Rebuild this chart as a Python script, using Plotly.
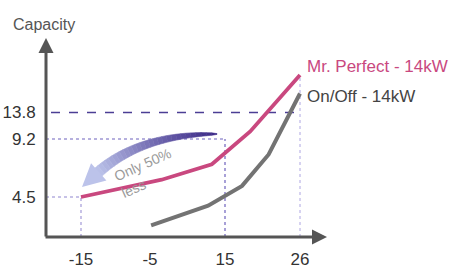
import numpy as np
import plotly.graph_objects as go

# ---------------- data ----------------
temp_ticks = [-15, -5, 15, 26]
temp_labels = ["-15", "-5", "15", "26"]
cap_ticks = [4.5, 9.2, 13.8]
cap_labels = ["4.5", "9.2", "13.8"]

perfect_name = "Mr. Perfect - 14kW"
perfect_temp = [-15, -1.9, 11.5, 18.7, 26]
perfect_cap = [4.5, 5.9, 7.15, 10.5, 20.3]

onoff_name = "On/Off - 14kW"
onoff_temp = [-4.7, 10.5, 17.5, 21.4, 26]
onoff_cap = [2.2, 3.8, 5.4, 7.95, 17.1]

note_text = "Only 50%<br>less"

# ---------------- schematic (non-linear) axis layout ----------------
TEMP_POS = [0, 69, 144, 219]      # drawn position of each temperature tick
CAP_POS = [40, 98, 124.5]         # drawn position of each capacity tick


def piecewise(v, knots, pos):
    v = np.atleast_1d(np.asarray(v, dtype=float))
    out = np.interp(v, knots, pos)
    lo_s = (pos[1] - pos[0]) / (knots[1] - knots[0])
    hi_s = (pos[-1] - pos[-2]) / (knots[-1] - knots[-2])
    out = np.where(v < knots[0], pos[0] + (v - knots[0]) * lo_s, out)
    out = np.where(v > knots[-1], pos[-1] + (v - knots[-1]) * hi_s, out)
    return out


def tx(t):
    return piecewise(t, temp_ticks, TEMP_POS)


def cy(c):
    return piecewise(c, cap_ticks, CAP_POS)


W, H = 452, 270
ML, MR, MT, MB = 46, 122, 30, 33
XR = [-35, -35 + (W - ML - MR)]
YR = [0, H - MT - MB]

FONT = "Liberation Sans, Arial, sans-serif"
PINK = "#c9487f"
GRAY = "#737373"
AXIS = "#555555"

fig = go.Figure()

fig.add_trace(go.Scatter(x=tx(onoff_temp), y=cy(onoff_cap), mode="lines",
                         line=dict(color=GRAY, width=4), name=onoff_name,
                         hoverinfo="skip"))
fig.add_trace(go.Scatter(x=tx(perfect_temp), y=cy(perfect_cap), mode="lines",
                         line=dict(color=PINK, width=3.8), name=perfect_name,
                         hoverinfo="skip"))

shapes = []
xl = XR[0]
# reference lines
x_m15, x_15, x_26 = tx(-15)[0], tx(15)[0], tx(26)[0]
y45, y92, y138 = cy(4.5)[0], cy(9.2)[0], cy(13.8)[0]
y_top26 = cy(perfect_cap[-1])[0] - 3
shapes += [
    dict(type="line", x0=xl + 5, x1=x_26, y0=y138, y1=y138, layer="below",
         line=dict(color="#4b3e95", width=1.5, dash="dash")),
    dict(type="line", x0=xl, x1=x_15, y0=y92, y1=y92, layer="below",
         line=dict(color="#6e62bd", width=1.2, dash="dot")),
    dict(type="line", x0=x_15, x1=x_15, y0=0, y1=y92, layer="below",
         line=dict(color="#6e62bd", width=1.2, dash="dot")),
    dict(type="line", x0=xl, x1=x_m15, y0=y45, y1=y45, layer="below",
         line=dict(color="#8f86cf", width=1.2, dash="dot")),
    dict(type="line", x0=x_m15, x1=x_m15, y0=0, y1=y45, layer="below",
         line=dict(color="#a39ad8", width=1.2, dash="dot")),
    dict(type="line", x0=x_26, x1=x_26, y0=0, y1=y_top26, layer="below",
         line=dict(color="#aea6e2", width=1, dash="dot")),
]

# curved gradient arrow (decoration)
P0 = np.array([136.0, 103.0])
P1 = np.array([60.0, 103.0])
P2 = np.array([17.0, 64.5])
TIP = np.array([1.0, 50.0])
c_tail = np.array([0x3d, 0x2b, 0x88])
c_head = np.array([0xbc, 0xc3, 0xea])
N = 28


def bez(t):
    return (1 - t) ** 2 * P0 + 2 * (1 - t) * t * P1 + t ** 2 * P2


def dbez(t):
    return 2 * (1 - t) * (P1 - P0) + 2 * t * (P2 - P1)


def edge(t):
    p = bez(t)
    d = dbez(t)
    n = np.array([-d[1], d[0]]) / np.hypot(*d)
    w = 10.0 * (t ** 0.55) / 2 + 0.4
    return p + n * w, p - n * w


ts = np.linspace(0, 1, N + 1)
for i in range(N):
    a1, b1 = edge(ts[i])
    a2, b2 = edge(ts[i + 1])
    c = c_tail + (c_head - c_tail) * ((ts[i] + ts[i + 1]) / 2) ** 1.1
    col = "rgb(%d,%d,%d)" % tuple(c.astype(int))
    path = "M %.2f,%.2f L %.2f,%.2f L %.2f,%.2f L %.2f,%.2f Z" % (
        a1[0], a1[1], a2[0], a2[1], b2[0], b2[1], b1[0], b1[1])
    shapes.append(dict(type="path", path=path, fillcolor=col,
                       line=dict(color=col, width=0.6), layer="above"))
d = dbez(1.0)
d = d / np.hypot(*d)
n = np.array([-d[1], d[0]])
base = P2 - d * 1.0
w1 = base + n * 11.5
w2 = base - n * 11.5
shapes.append(dict(type="path",
                   path="M %.2f,%.2f L %.2f,%.2f L %.2f,%.2f Z" % (
                       w1[0], w1[1], TIP[0], TIP[1], w2[0], w2[1]),
                   fillcolor="rgb(188,195,234)", line=dict(width=0),
                   layer="above"))

annotations = [
    # y axis with arrow
    dict(x=xl, y=YR[1] - 8, xref="x", yref="y", ax=0, ay=200, axref="pixel",
         ayref="pixel", text="", showarrow=True, arrowhead=2, arrowsize=1,
         arrowwidth=3, arrowcolor=AXIS),
    # x axis with arrow
    dict(x=tx(26)[0] + 27, y=0, xref="x", yref="y", ax=-283, ay=0,
         axref="pixel", ayref="pixel", text="", showarrow=True, arrowhead=2,
         arrowsize=1, arrowwidth=3, arrowcolor=AXIS),
    dict(x=0.0, y=1.0, xref="paper", yref="paper", text="Capacity",
         showarrow=False, xanchor="center", yanchor="bottom", xshift=-2,
         yshift=-5, font=dict(family=FONT, size=16, color=AXIS)),
    dict(x=tx(26)[0] + 32, y=0, xref="x", yref="y", text="Temperature",
         showarrow=False, xanchor="left", yanchor="middle", yshift=4,
         font=dict(family=FONT, size=17, color=AXIS)),
    dict(x=tx(26)[0] + 5, y=cy(perfect_cap[-1])[0], xref="x", yref="y",
         text=perfect_name, showarrow=False, xanchor="left",
         yanchor="middle", yshift=9,
         font=dict(family=FONT, size=17, color=PINK)),
    dict(x=tx(26)[0] + 5, y=cy(onoff_cap[-1])[0], xref="x", yref="y",
         text=onoff_name, showarrow=False, xanchor="left", yanchor="middle",
         yshift=-3, font=dict(family=FONT, size=17, color="#444444")),
    dict(x=65, y=64, xref="x", yref="y", text=note_text, showarrow=False,
         textangle=-24, align="left",
         font=dict(family=FONT, size=14, color="#9a9a9a")),
]

fig.update_layout(
    width=W, height=H,
    margin=dict(l=ML, r=MR, t=MT, b=MB, pad=0),
    paper_bgcolor="white", plot_bgcolor="white",
    showlegend=False,
    shapes=shapes,
    annotations=annotations,
    xaxis=dict(range=XR, showgrid=False, zeroline=False, showline=False,
               tickmode="array", tickvals=list(tx(temp_ticks)),
               ticktext=temp_labels, ticks="outside", ticklen=7,
               tickcolor="rgba(0,0,0,0)", automargin=False,
               tickfont=dict(family=FONT, size=17, color="#333333"),
               fixedrange=True),
    yaxis=dict(range=YR, showgrid=False, zeroline=False, showline=False,
               tickmode="array", tickvals=list(cy(cap_ticks)),
               ticktext=cap_labels, ticks="outside", ticklen=6,
               tickcolor="rgba(0,0,0,0)", automargin=False,
               tickfont=dict(family=FONT, size=17, color="#333333"),
               fixedrange=True),
)

fig.write_html(
    "out.html",
    config={"displayModeBar": False, "staticPlot": True},
    post_script="document.body.style.margin='0';"
                "document.body.style.overflow='hidden';",
)
